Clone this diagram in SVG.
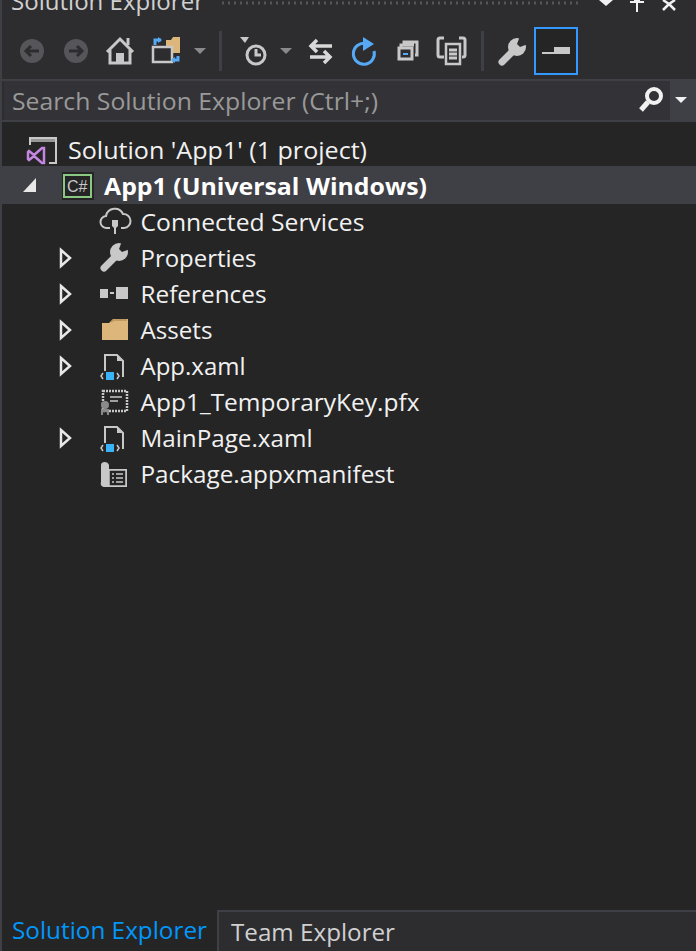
<svg xmlns="http://www.w3.org/2000/svg" width="696" height="951" viewBox="0 0 696 951">
<style>
text{font-family:"Open Sans","Noto Sans","DejaVu Sans",sans-serif;font-size:24px;fill:#f1f1f1}
.i{fill:#c8c8c8}
.s{fill:none;stroke:#c8c8c8;stroke-width:3}
.a{fill:none;stroke:#e8e8e8;stroke-width:2.5}
.b{fill:#55a9f5}
.bs{fill:none;stroke:#55a9f5;stroke-width:3}
.f{fill:#dcb67a}
</style>
<rect width="696" height="951" fill="#2d2d30"/>
<rect x="2" y="122" width="694" height="829" fill="#252526"/>
<rect x="0" y="0" width="2" height="951" fill="#3f3f46"/>
<g id="title">
<text x="11" y="10" textLength="193" lengthAdjust="spacingAndGlyphs" style="fill:#d0d0d0">Solution Explorer</text>
<line x1="222" y1="3" x2="578" y2="3" stroke="#55555a" stroke-width="3" stroke-dasharray="2 4"/>
<path d="M599 0h14l-7 6z" fill="#f1f1f1"/>
<path d="M630 2h14M637 2v10M634 0h6" stroke="#f1f1f1" stroke-width="2" fill="#f1f1f1"/>
<path d="M663 0l6 4 6-4M669 4l-6 6M669 4l6 6" stroke="#f1f1f1" stroke-width="2.5" fill="none"/>
</g>
<g id="toolbar">
<circle cx="32" cy="51" r="12" fill="#55555a"/><path d="M39 51h-12M31 46l-5 5 5 5" stroke="#2d2d30" stroke-width="3" fill="none"/>
<circle cx="76" cy="51" r="12" fill="#55555a"/><path d="M69 51h12M77 46l5 5-5 5" stroke="#2d2d30" stroke-width="3" fill="none"/>
<path d="M107 52l13-13 13 13M110 50v13h20v-13" class="s" stroke-width="2.5"/><rect x="116" y="53" width="8" height="10" class="i"/><path d="M128 38v7" class="s" stroke-width="2"/>
<path d="M166 40h5l2-3h7v16h-14z" class="f"/><rect x="153" y="47" width="19" height="15" fill="#2d2d30" stroke="#c8c8c8" stroke-width="2.5"/>
<path d="M155 45v-5h6" class="bs" stroke-width="2.5"/><path d="M158 37l4 3-4 3z" class="b"/><path d="M178 56v4h-6" class="bs" stroke-width="2.5"/><path d="M175 57l-4 3 4 3z" class="b"/>
<path d="M194 48h12l-6 6z" fill="#8a8a8a"/>
<rect x="219" y="31" width="3" height="40" fill="#3f3f46"/>
<path d="M240 37h9l-4 6z" fill="#c8c8c8"/><circle cx="256" cy="55" r="9" class="s" stroke-width="2.5"/><path d="M256 49v6h5" class="s" stroke-width="2"/>
<path d="M280 48h12l-6 6z" fill="#8a8a8a"/>
<path d="M332 46h-20M317 40l-6 6 6 6" style="fill:none;stroke:#d8d8d8;stroke-width:3.500"/><path d="M310 57h20M324 51l6 6-6 6" style="fill:none;stroke:#d8d8d8;stroke-width:3.500"/>
<path d="M366 43.500A10.500 10.500 0 1 0 374 51" class="bs" stroke-width="4.500"/><path d="M363 37l11 7-11 7z" class="b"/>
<path d="M404 44v-2h13v13h-2M401 47v-2h13" class="s" stroke-width="1.500"/><rect x="399" y="48" width="13" height="11" class="s" stroke-width="2"/><rect x="403" y="53" width="5" height="2" class="b"/>
<path d="M444 57h-4a2 2 0 0 1-2-2v-15a2 2 0 0 1 2-2h4M459 38h4a2 2 0 0 1 2 2v15a2 2 0 0 1-2 2h-1" class="s" stroke-width="2.500"/><rect x="446" y="44" width="14" height="20" fill="#2d2d30" stroke="#c8c8c8" stroke-width="2.500"/><path d="M449 50h8M449 54h8M449 58h8" class="s" stroke-width="1.500"/>
<rect x="481" y="31" width="3" height="40" fill="#3f3f46"/>
<path d="M502 62l15-15" stroke="#c8c8c8" stroke-width="7" stroke-linecap="round"/><circle cx="517" cy="47" r="9" class="i"/><path d="M520 36l-3 8 3 3 8-3-2-8z" fill="#2d2d30"/>
<rect x="535" y="28" width="42" height="46" fill="#252526" stroke="#3399ff" stroke-width="2"/>
<path d="M554 47h16v7h-16z" class="i"/><rect x="542" y="52" width="14" height="2" class="i"/>
</g>
<g id="search">
<rect x="0" y="79" width="696" height="2" fill="#3f3f46"/>
<rect x="4" y="81" width="666" height="39" fill="#333337"/>
<rect x="670" y="81" width="26" height="39" fill="#3f3f46"/>
<rect x="0" y="120" width="696" height="2" fill="#3f3f46"/>
<text x="12" y="110" textLength="366" lengthAdjust="spacingAndGlyphs" style="fill:#999999">Search Solution Explorer (Ctrl+;)</text>
<circle cx="654" cy="96" r="7" fill="none" stroke="#f1f1f1" stroke-width="4"/><path d="M648 102l-7 8" stroke="#f1f1f1" stroke-width="5"/>
<path d="M675 97h12l-6 6z" fill="#f1f1f1"/>
</g>
<rect x="2" y="166" width="694" height="38" fill="#3f3f46"/>
<g id="solution">
<path d="M30 145v-7h26v25h-7" fill="none" stroke="#c8c8c8" stroke-width="2"/><rect x="29" y="137" width="27" height="5" fill="#c8c8c8" opacity=".7"/>
<path d="M29 151l5 4 8-7h2v15h-2l-8-7-5 4-1-1v-7z" fill="none" stroke="#c586e0" stroke-width="2.500"/>
<text x="68" y="159" textLength="299" lengthAdjust="spacingAndGlyphs">Solution 'App1' (1 project)</text>
</g>
<g id="project">
<path d="M36 178v14h-13z" fill="#e8e8e8"/>
<rect x="62" y="172" width="32" height="28" fill="#252526"/><rect x="64" y="175" width="27" height="22" fill="none" stroke="#8ac883" stroke-width="2"/>
<text x="67" y="192" style="font-size:16px;fill:#c8c8c8;font-family:'Liberation Sans',sans-serif">C#</text>
<text x="104" y="195" textLength="323" lengthAdjust="spacingAndGlyphs" style="font-weight:700;fill:#fff">App1 (Universal Windows)</text>
</g>
<g id="connected">
<path d="M110 228h-3a6 6 0 0 1-1-12 9 9 0 0 1 17-2 7 7 0 0 1 1 14h-3" fill="none" stroke="#c8c8c8" stroke-width="2"/><path d="M112 220h6v6l-2 2v6h-2v-6l-2-2z" class="i"/>
<text x="140.500" y="231" textLength="224" lengthAdjust="spacingAndGlyphs">Connected Services</text>
</g>
<g id="properties">
<path d="M61 250l9 8-9 8z" class="a"/>
<path d="M104 268l14-14" stroke="#c8c8c8" stroke-width="7" stroke-linecap="round"/><circle cx="119" cy="252" r="9" class="i"/><path d="M122 241l-3 8 3 3 8-3-2-8z" fill="#252526"/>
<text x="140.500" y="267" textLength="116" lengthAdjust="spacingAndGlyphs">Properties</text>
</g>
<g id="references">
<path d="M61 286l9 8-9 8z" class="a"/>
<rect x="100" y="289" width="8" height="9" class="i"/><rect x="110" y="292" width="4" height="2" class="i"/><rect x="116" y="287" width="12" height="12" class="i"/>
<text x="140.500" y="303" textLength="126" lengthAdjust="spacingAndGlyphs">References</text>
</g>
<g id="assets">
<path d="M61 322l9 8-9 8z" class="a"/>
<path d="M102 323h7l4-4h15v21h-26z" class="f"/><path d="M111 322l3-2h13" stroke="#b8935a" stroke-width="1.500" fill="none"/>
<text x="140.500" y="339" textLength="72" lengthAdjust="spacingAndGlyphs">Assets</text>
</g>
<g id="appxaml">
<path d="M61 358l9 8-9 8z" class="a"/>
<path d="M105 371v-16h12l6 6v16" fill="none" stroke="#c8c8c8" stroke-width="2"/><path d="M117 355l6 6h-6z" class="i"/>
<rect x="106" y="372" width="8" height="8" fill="#3ab4f6"/><path d="M103 373l-2 3 2 3M117 373l2 3-2 3" fill="none" stroke="#c8c8c8" stroke-width="1.500"/>
<text x="140.500" y="375" textLength="105" lengthAdjust="spacingAndGlyphs">App.xaml</text>
</g>
<g id="key">
<rect x="103" y="391" width="24" height="20" fill="none" stroke="#c8c8c8" stroke-width="2.500" stroke-dasharray="2 1"/>
<path d="M110 397h12M110 401h8" stroke="#c8c8c8" stroke-width="1.500"/>
<circle cx="105" cy="405" r="4" fill="#8a8a8a"/><path d="M101 409h8v6h-2v-3h-4v3h-2z" fill="#8a8a8a"/>
<text x="140.500" y="411" textLength="279" lengthAdjust="spacingAndGlyphs">App1_TemporaryKey.pfx</text>
</g>
<g id="mainpage">
<path d="M61 430l9 8-9 8z" class="a"/>
<path d="M105 443v-16h12l6 6v16" fill="none" stroke="#c8c8c8" stroke-width="2"/><path d="M117 427l6 6h-6z" class="i"/>
<rect x="106" y="444" width="8" height="8" fill="#3ab4f6"/><path d="M103 445l-2 3 2 3M117 445l2 3-2 3" fill="none" stroke="#c8c8c8" stroke-width="1.500"/>
<text x="140.500" y="447" textLength="172" lengthAdjust="spacingAndGlyphs">MainPage.xaml</text>
</g>
<g id="manifest">
<path d="M101 465c0-4 7-4 8 0v4h18v18h-22c-3 0-5-2-4-5z" class="i"/>
<rect x="109" y="470" width="17" height="16" fill="#252526" stroke="#c8c8c8" stroke-width="1.500"/>
<path d="M112 474h2M116 474h7M112 478h2M116 478h7M112 482h2M116 482h7" stroke="#c8c8c8" stroke-width="1.500"/>
<text x="140.500" y="483" textLength="254" lengthAdjust="spacingAndGlyphs">Package.appxmanifest</text>
</g>
<g id="tabs">
<rect x="217" y="910" width="479" height="41" fill="#2d2d30"/>
<path d="M218 951v-40h478" fill="none" stroke="#3f3f46" stroke-width="2"/>
<text x="12" y="939" textLength="195" lengthAdjust="spacingAndGlyphs" style="fill:#0097fb">Solution Explorer</text>
<text x="231" y="941" textLength="164" lengthAdjust="spacingAndGlyphs" style="fill:#d0d0d0">Team Explorer</text>
</g>
</svg>
